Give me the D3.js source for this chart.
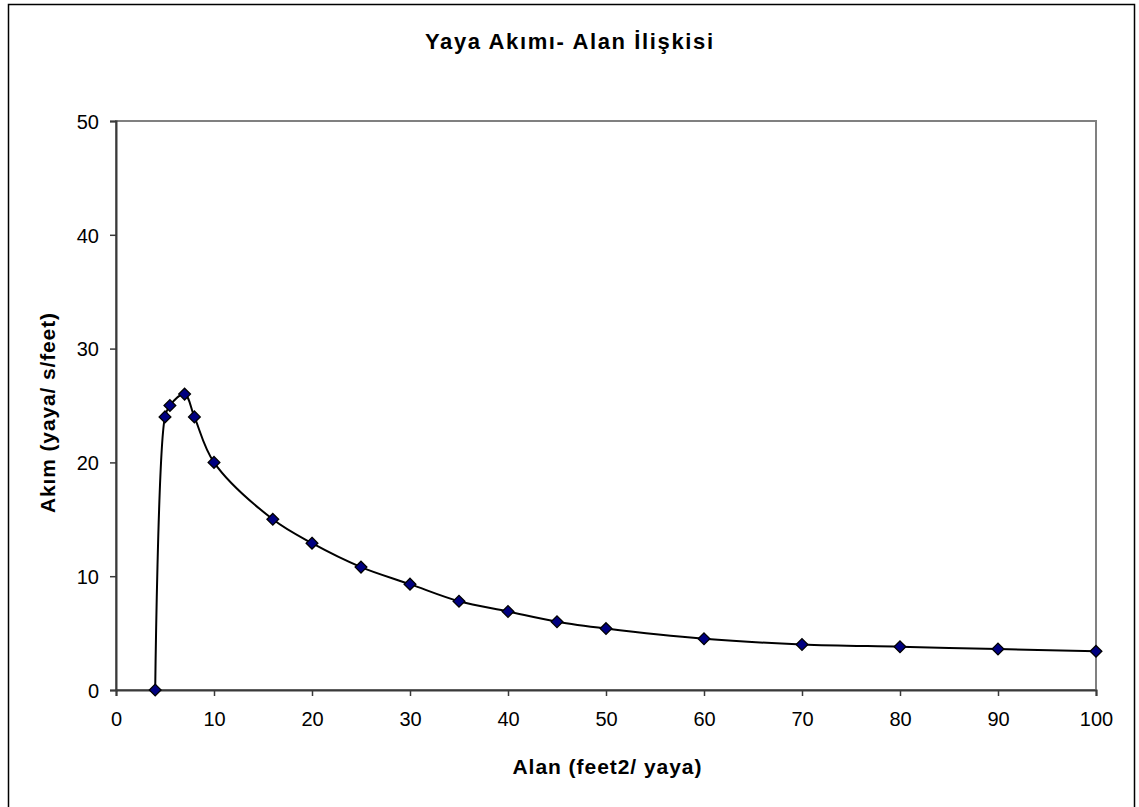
<!DOCTYPE html>
<html>
<head>
<meta charset="utf-8">
<script src="https://cdn.jsdelivr.net/npm/d3@7"></script>
<style>
  body { margin: 0; background: #fff; }
  text { font-family: Arial, "Liberation Sans", sans-serif; fill: #000; }
</style>
</head>
<body>
<div id="chart"></div>
<script>
// chart data (Alan feet2/yaya vs Akim yaya/s/feet)
var alan = [4, 5, 5.5, 7, 8, 10, 16, 20, 25, 30, 35, 40, 45, 50, 60, 70, 80, 90, 100];
var akim = [0, 24, 25, 26, 24, 20, 15, 12.9, 10.8, 9.3, 7.8, 6.9, 6.0, 5.4, 4.5, 4.0, 3.8, 3.6, 3.4];
var xTicks = [0, 10, 20, 30, 40, 50, 60, 70, 80, 90, 100];
var yTicks = [0, 10, 20, 30, 40, 50];
var title = "Yaya Akımı- Alan İlişkisi";
var xTitle = "Alan (feet2/ yaya)";
var yTitle = "Akım (yaya/ s/feet)";

var width = 1139, height = 807;
var plotLeft = 116, plotRight = 1096, plotTop = 121, plotBottom = 690;

var data = alan.map(function(d, i) { return {x: d, y: akim[i]}; });

var svg = d3.select("#chart").append("svg")
    .attr("width", width)
    .attr("height", height);

// outer frame
svg.append("rect")
    .attr("x", 8.5).attr("y", 4.5)
    .attr("width", 1126).attr("height", 820)
    .attr("fill", "none")
    .attr("stroke", "#000")
    .attr("stroke-width", 1.5);

var xScale = d3.scaleLinear()
    .domain([0, 100])
    .range([plotLeft, plotRight]);

var yScale = d3.scaleLinear()
    .domain([0, 50])
    .range([plotBottom, plotTop]);

// plot area border (top / right in gray)
svg.append("rect")
    .attr("x", plotLeft).attr("y", plotTop)
    .attr("width", plotRight - plotLeft).attr("height", plotBottom - plotTop)
    .attr("fill", "none")
    .attr("stroke", "#808080")
    .attr("stroke-width", 2);

// x axis
var xAxis = svg.append("g")
    .attr("transform", "translate(0," + plotBottom + ")")
    .call(d3.axisBottom(xScale).tickValues(xTicks).tickSize(6).tickPadding(16).tickFormat(d3.format("d")));

// y axis
var yAxis = svg.append("g")
    .attr("transform", "translate(" + plotLeft + ",0)")
    .call(d3.axisLeft(yScale).tickValues(yTicks).tickSize(6).tickPadding(11).tickFormat(d3.format("d")));

[xAxis, yAxis].forEach(function(ax) {
    ax.select(".domain").attr("stroke", "#3a3a3a").attr("stroke-width", 2);
    ax.selectAll(".tick line").attr("stroke", "#3a3a3a").attr("stroke-width", 1.5);
    ax.selectAll(".tick text")
        .attr("font-family", "Arial, 'Liberation Sans', sans-serif")
        .attr("font-size", 20)
        .attr("fill", "#000");
});
yAxis.selectAll(".tick text").attr("dy", "0.36em");

// smoothed line
var line = d3.line()
    .x(function(d) { return xScale(d.x); })
    .y(function(d) { return yScale(d.y); })
    .curve(d3.curveCatmullRom.alpha(0.5));

svg.append("path")
    .datum(data)
    .attr("d", line)
    .attr("fill", "none")
    .attr("stroke", "#000")
    .attr("stroke-width", 2);

// diamond markers
var diamond = d3.symbol().type(d3.symbolDiamond2).size(88);
svg.selectAll(".pt")
    .data(data)
    .enter().append("path")
    .attr("class", "pt")
    .attr("d", diamond)
    .attr("transform", function(d) { return "translate(" + xScale(d.x) + "," + yScale(d.y) + ")"; })
    .attr("fill", "#000080")
    .attr("stroke", "#000")
    .attr("stroke-width", 1.3);

// titles
svg.append("text")
    .attr("x", 569).attr("y", 49)
    .attr("text-anchor", "middle")
    .attr("font-size", 22)
    .attr("font-weight", "bold")
    .attr("textLength", 288)
    .attr("lengthAdjust", "spacing")
    .text(title);

svg.append("text")
    .attr("x", 607).attr("y", 774)
    .attr("text-anchor", "middle")
    .attr("font-size", 21)
    .attr("font-weight", "bold")
    .attr("textLength", 189)
    .attr("lengthAdjust", "spacing")
    .text(xTitle);

svg.append("text")
    .attr("transform", "translate(55,413) rotate(-90)")
    .attr("text-anchor", "middle")
    .attr("font-size", 21)
    .attr("font-weight", "bold")
    .attr("textLength", 200)
    .attr("lengthAdjust", "spacing")
    .text(yTitle);
</script>
</body>
</html>
